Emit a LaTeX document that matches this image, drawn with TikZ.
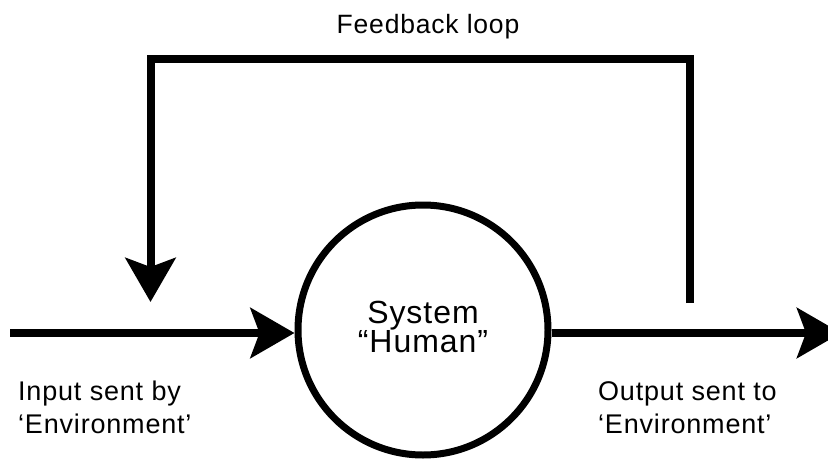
\documentclass[tikz,border=0pt]{standalone}
\usepackage{fontspec}
\setmainfont{Liberation Sans}
\newfontfamily\lblfont{Liberation Sans}[LetterSpace=3]
\newfontfamily\sysfont{Liberation Sans}[LetterSpace=3]
\usetikzlibrary{arrows.meta}
\begin{document}
\begin{tikzpicture}[x=1pt,y=-1pt,
  conn/.style={line width=8pt, line join=miter},
  bigarrow/.style={-{Stealth[length=44pt,width=50pt,inset=9pt]}},
  lbl/.style={inner sep=0pt, anchor=base west, font=\lblfont\fontsize{27pt}{33pt}\selectfont},
  clbl/.style={inner sep=0pt, anchor=base, font=\lblfont\fontsize{26.5pt}{33pt}\selectfont},
  slbl/.style={inner sep=0pt, anchor=base, font=\sysfont\fontsize{32pt}{33pt}\selectfont}]
\useasboundingbox (0,0) rectangle (828,463);
\clip (0,0) rectangle (828,463);
\node[circle, draw, line width=7pt, minimum size=250pt, inner sep=0pt] (sys) at (423,330) {};
\coordinate (in) at (10,333);
\coordinate (out) at (841,333);
\coordinate (fbA) at (690,303);
\coordinate (fbB) at (690,59);
\coordinate (fbC) at (150.5,59);
\coordinate (fbD) at (150.5,302);
\draw[conn, bigarrow] (in) -- (in -| sys.west);
\draw[conn, bigarrow] (in -| sys.east) -- (out);
\draw[conn, bigarrow] (fbA) -- (fbB) -- (fbC) -- (fbD);
\node[clbl] (fbl) at (428,33) {Feedback loop};
\node[slbl] (s1) at (423,323) {System};
\node[slbl] (s2) at (423,352) {“Human”};
\node[lbl] (i1) at (18,400) {Input sent by};
\node[lbl] (i2) at (18,433) {‘Environment’};
\node[lbl] (o1) at (598,400) {Output sent to};
\node[lbl] (o2) at (598,433) {‘Environment’};
\end{tikzpicture}
\end{document}
